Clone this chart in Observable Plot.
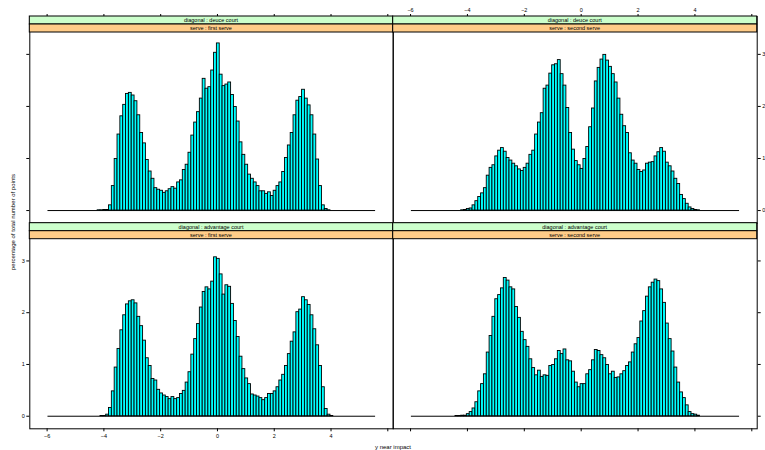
<!DOCTYPE html>
<html><head><meta charset="utf-8">
<script src="https://cdn.jsdelivr.net/npm/d3@7"></script>
<script src="https://cdn.jsdelivr.net/npm/@observablehq/plot@0.6"></script>
<style>
html,body{margin:0;padding:0;background:#fff;}
#chart{position:relative;width:765px;height:450px;font-family:"Liberation Sans",Arial,sans-serif;}
#chart svg{position:absolute;left:0;top:0;}
</style></head><body><div id="chart"></div>
<script>
// ---------- data ----------
const serveLevels = ["first serve", "second serve"];
const diagonalLevels = ["deuce court", "advantage court"];
const binWidth = 0.1;
const breakRange = [-5.97, 5.57];
const xTicks = [-6, -4, -2, 0, 2, 4, 6];
const xTickLabels = ["\u22126", "\u22124", "\u22122", "0", "2", "4", ""];
const yTicks = [0, 1, 2, 3];
const yTickLabels = ["0", "1", "2", "3"];
const xLabel = "y near impact";
const yLabel = "percentage of total number of points";

// deuce court, first serve
const deuceFirstStart = -4.22;
const deuceFirst = [0.005,0.005,0.01,0.01,
0.10,0.47,0.99,1.46,1.81,2.03,2.24,2.26,2.21,2.10,1.83,1.49,1.29,0.97,0.75,0.61,0.43,0.40,0.38,0.34,
0.37,0.41,0.45,0.42,0.54,0.58,0.78,0.88,1.11,1.44,1.69,1.89,2.15,2.53,2.34,2.37,2.69,3.03,3.21,2.61,
2.39,2.42,2.46,2.22,1.99,1.71,1.31,1.07,0.88,0.69,0.61,0.54,0.47,0.37,0.37,0.32,0.35,0.28,0.38,0.47,
0.54,0.74,1.01,1.25,1.49,1.83,2.11,2.18,2.32,2.15,2.02,1.83,1.46,0.98,0.47,0.10,0.03,0.005];

// deuce court, second serve
const deuceSecondStart = -4.22;
const deuceSecond = [0.005,0.01,0.03,0.04,
0.10,0.18,0.26,0.33,0.43,0.67,0.82,0.87,1.04,1.15,1.20,1.13,1.01,0.96,0.90,0.85,0.79,0.76,0.82,0.90,
1.07,1.15,1.46,1.69,1.87,2.34,2.40,2.63,2.79,2.81,2.89,2.62,2.40,1.97,1.49,1.17,0.95,0.87,0.80,0.99,
1.22,1.60,1.96,2.48,2.74,2.90,2.99,2.88,2.76,2.62,2.46,2.15,1.84,1.62,1.49,1.10,0.96,0.90,0.78,0.74,
0.77,0.90,0.92,0.93,1.04,1.12,1.20,1.13,0.92,0.85,0.75,0.61,0.51,0.30,0.22,0.13,0.06,0.03,0.01,0.005];

// advantage court, first serve
const advFirstStart = -4.12;
const advFirst = [0.005,0.005,0.03,
0.16,0.48,0.94,1.30,1.66,1.95,2.16,2.22,2.24,2.18,1.92,1.74,1.46,1.12,0.97,0.72,0.69,0.51,0.44,0.40,
0.37,0.33,0.37,0.33,0.35,0.43,0.49,0.65,0.85,1.19,1.49,1.78,2.10,2.40,2.49,2.45,2.60,3.07,3.04,2.74,
2.35,2.53,2.50,2.17,1.84,1.53,1.15,0.91,0.73,0.62,0.42,0.40,0.38,0.35,0.31,0.35,0.43,0.43,0.48,0.56,
0.69,0.80,0.97,1.20,1.44,1.62,2.01,2.06,2.30,2.24,2.15,1.95,1.68,1.37,0.97,0.56,0.14,0.03,0.005];

// advantage court, second serve
const advSecondStart = -4.42;
const advSecond = [0.005,0.005,0.01,
0.01,0.04,0.08,0.15,0.27,0.48,0.62,0.81,1.23,1.55,1.92,2.26,2.34,2.47,2.67,2.62,2.49,2.45,2.11,1.90,
1.63,1.47,1.34,1.10,0.93,0.79,0.88,0.76,0.79,0.78,0.97,0.99,1.10,1.26,1.20,1.29,1.08,1.06,0.86,0.65,
0.56,0.62,0.62,0.81,0.89,1.08,1.28,1.26,1.18,1.12,0.99,0.81,0.86,0.74,0.75,0.81,0.87,0.97,1.04,1.23,
1.39,1.51,1.83,2.03,2.31,2.49,2.58,2.64,2.61,2.45,2.19,1.79,1.49,1.25,0.94,0.65,0.46,0.35,0.21,0.08,
0.04,0.03,0.01];

// ---------- layout ----------
const W = 765, H = 450;
const colEdges = [29.3, 392.7, 756.7];
const rowEdges = [16, 222.7, 428.3];
const stripH = 8;
const xDomain = [-6.61, 6.19];
const yDomain = [-0.243, 3.42];
const FONT = "'Liberation Sans', Arial, Helvetica, sans-serif";
const stripColors = {diagonal: "#ccffcc", serve: "#ffcc88"};

const container = document.getElementById("chart");

function makePanel(col, row, start, values) {
  const bins = values.map((v, i) => ({
    x1: start + i * binWidth,
    x2: start + (i + 1) * binWidth,
    y0: 0,
    y: v
  }));
  const left = colEdges[col], right = colEdges[col + 1];
  const top = rowEdges[row], bottom = rowEdges[row + 1];
  const dataTop = top + 2 * stripH;
  const xLabelled = (row === 0 && col === 1) || (row === 1 && col === 0);
  const yLabelled = (row === 0 && col === 1) || (row === 1 && col === 0);
  const svg = Plot.plot({
    width: W, height: H,
    marginLeft: left, marginRight: W - right, marginTop: top, marginBottom: H - bottom,
    style: {background: "transparent", fontFamily: FONT, fontSize: "5.5px", color: "black", overflow: "visible"},
    x: {
      domain: xDomain, ticks: xTicks, axis: row === 0 ? "top" : "bottom",
      tickSize: 3, tickPadding: 2, label: null,
      tickFormat: d => xLabelled ? xTickLabels[xTicks.indexOf(d)] : ""
    },
    y: {
      domain: yDomain, range: [bottom, dataTop], ticks: yTicks, axis: col === 0 ? "left" : "right",
      tickSize: 3, tickPadding: 2, label: null,
      tickFormat: d => yLabelled ? yTickLabels[yTicks.indexOf(d)] : ""
    },
    marks: [
      Plot.ruleY([{y: 0, x1: breakRange[0], x2: breakRange[1]}], {y: "y", x1: "x1", x2: "x2", stroke: "black", strokeWidth: 1}),
      Plot.rect(bins, {x1: "x1", x2: "x2", y1: "y0", y2: "y", fill: "#00ffff", stroke: "black", strokeWidth: 0.9, inset: 0}),
      Plot.frame({stroke: "black", strokeWidth: 1})
    ]
  });
  // lattice-style strips
  const g = d3.select(svg).append("g");
  const strips = [
    {label: "diagonal : " + diagonalLevels[row], fill: stripColors.diagonal},
    {label: "serve : " + serveLevels[col], fill: stripColors.serve}
  ];
  strips.forEach((s, i) => {
    g.append("rect").attr("x", left).attr("y", top + i * stripH)
      .attr("width", right - left).attr("height", stripH)
      .attr("fill", s.fill).attr("stroke", "black").attr("stroke-width", 1);
    g.append("text").attr("x", (left + right) / 2).attr("y", top + i * stripH + stripH / 2)
      .attr("text-anchor", "middle").attr("dominant-baseline", "central")
      .attr("font-family", FONT).attr("font-size", 5.5).attr("fill", "black")
      .text(s.label);
  });
  container.appendChild(svg);
}

makePanel(0, 0, deuceFirstStart, deuceFirst);
makePanel(1, 0, deuceSecondStart, deuceSecond);
makePanel(0, 1, advFirstStart, advFirst);
makePanel(1, 1, advSecondStart, advSecond);

// axis titles
const t = d3.select(container).append("svg").attr("width", W).attr("height", H)
  .style("overflow", "visible");
t.append("text").attr("x", (colEdges[0] + colEdges[2]) / 2).attr("y", 447)
  .attr("text-anchor", "middle").attr("dominant-baseline", "central")
  .attr("font-family", FONT).attr("font-size", 6).text(xLabel);
t.append("text").attr("transform", `translate(13,${(rowEdges[0] + rowEdges[2]) / 2}) rotate(-90)`)
  .attr("text-anchor", "middle").attr("dominant-baseline", "central")
  .attr("font-family", FONT).attr("font-size", 6).text(yLabel);
</script></body></html>
